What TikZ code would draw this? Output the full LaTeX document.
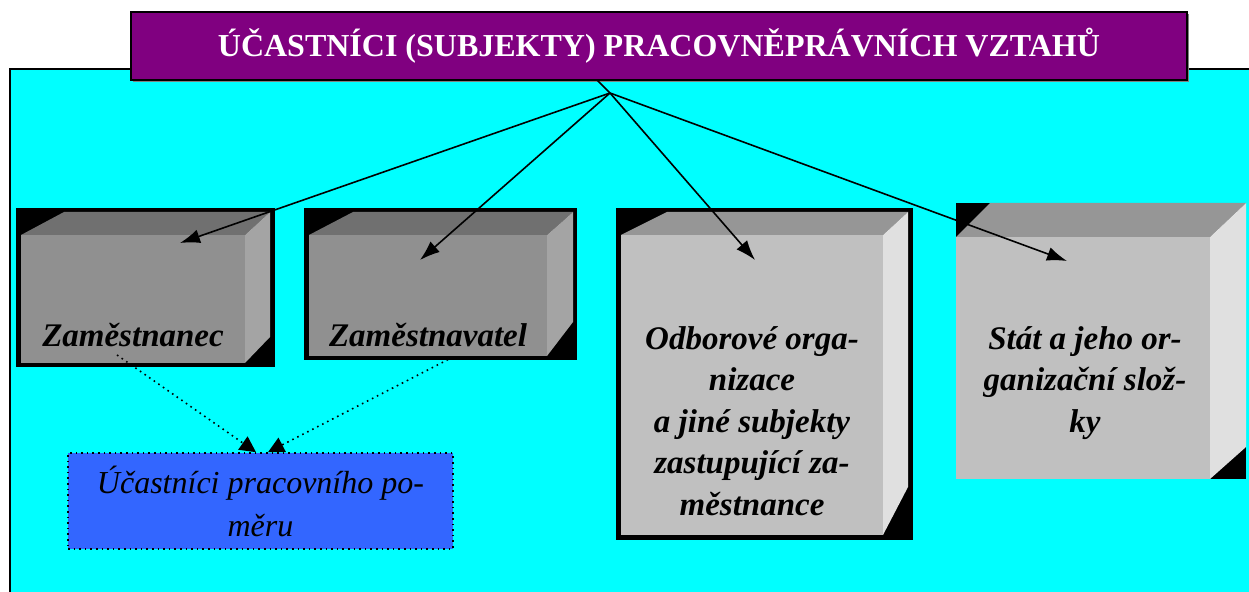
\documentclass[tikz,border=0pt]{standalone}
\usepackage{fontspec}
\setmainfont{Liberation Serif}
\usetikzlibrary{arrows.meta}

\definecolor{bgcyan}{HTML}{00FFFF}
\definecolor{titlepurple}{HTML}{800080}
\definecolor{relblue}{HTML}{3366FF}
\definecolor{darktop}{HTML}{707070}
\definecolor{darkfront}{HTML}{909090}
\definecolor{darkside}{HTML}{A4A4A4}
\definecolor{lighttop}{HTML}{969696}
\definecolor{lightfront}{HTML}{C0C0C0}
\definecolor{lightside}{HTML}{E0E0E0}

\tikzset{
    cubetext/.style={font=\fontsize{16.5}{20.75}\selectfont\bfseries\itshape, align=center, inner sep=0pt},
    arr/.style={line width=0.8pt, -{Latex[length=10pt,width=7pt]}},
    dotarr/.style={line width=0.8pt, dotted, -{Triangle[length=8pt,width=8pt]}}
}

\begin{document}
\begin{tikzpicture}[x=0.5pt,y=-0.5pt]
        \useasboundingbox (0,0) rectangle (1249,592);

        % background frame
        \fill[bgcyan] (10,69) rectangle (1252,595);
        \draw[line width=1pt] (10,595) |- (1252,69);

        % title
        \fill[gray] (133,14) rectangle (1189,82);
        \node[draw, line width=1pt, fill=titlepurple, text=white, minimum width=528pt, minimum height=34pt,
              font=\fontsize{16}{19}\selectfont\bfseries] (title) at (659,46)
              {ÚČASTNÍCI (SUBJEKTY) PRACOVNĚPRÁVNÍCH VZTAHŮ};

        % cube 1
        \fill[black] (16,208) rectangle (275,367);
        \fill[darktop] (21,235) -- (64,212) -- (270,212) -- (245,235) -- cycle;
        \fill[darkside] (245,235) -- (270,212) -- (270,337) -- (245,363) -- cycle;
        \fill[darkfront] (21,235) rectangle (245,363);
        \node[cubetext, anchor=base] (zam) at (133,347) {Zaměstnanec};

        % cube 2
        \fill[black] (304,208) rectangle (577,360);
        \fill[darktop] (309,235) -- (353,212) -- (573,212) -- (547,235) -- cycle;
        \fill[darkside] (547,235) -- (573,212) -- (573,322) -- (547,356) -- cycle;
        \fill[darkfront] (309,235) rectangle (547,356);
        \node[cubetext, anchor=base] (zal) at (428,347) {Zaměstnavatel};

        % cube 3
        \fill[black] (616,208) rectangle (913,540);
        \fill[lighttop] (621,235) -- (667,212) -- (908,212) -- (883,235) -- cycle;
        \fill[lightside] (883,235) -- (908,212) -- (908,487) -- (883,535) -- cycle;
        \fill[lightfront] (621,235) rectangle (883,535);
        \node[cubetext] (odb) at (752,421) {Odborové orga-\\nizace\\a jiné subjekty\\zastupující za-\\městnance};

        % cube 4
        \fill[black] (956,203) rectangle (1246,479);
        \fill[lighttop] (956,237) -- (990,203) -- (1246,203) -- (1210,237) -- cycle;
        \fill[lightside] (1210,237) -- (1246,203) -- (1246,447) -- (1210,479) -- cycle;
        \fill[lightfront] (956,237) rectangle (1210,479);
        \node[cubetext] (stat) at (1085,383) {Stát a jeho or-\\ganizační slož-\\ky};

        % relation box
        \node[draw, dotted, line width=0.8pt, fill=relblue, minimum width=192.5pt, minimum height=48pt,
              align=center, font=\fontsize{16}{21.5}\selectfont\itshape] (ucast) at (260.5,501)
              {Účastníci pracovního po-\\měru};

        % connectors
        \coordinate (stem) at (597,80);
        \coordinate (hub) at (610,93);
        \coordinate (tipzam) at (180,243);
        \coordinate (tipzal) at (420,260);
        \coordinate (tipodb) at (755,260);
        \coordinate (tipstat) at (1067,261);
        \draw[line width=0.8pt] (stem) -- (hub);
        \draw[arr] (hub) -- (tipzam);
        \draw[arr] (hub) -- (tipzal);
        \draw[arr] (hub) -- (tipodb);
        \draw[arr] (hub) -- (tipstat);

        \coordinate (fromzam) at (117,355);
        \coordinate (fromzal) at (453,357);
        \draw[dotarr] (fromzam) -- (ucast.north -| 256,0);
        \draw[dotarr] (fromzal) -- (ucast.north -| 268,0);
    \end{tikzpicture}
\end{document}
